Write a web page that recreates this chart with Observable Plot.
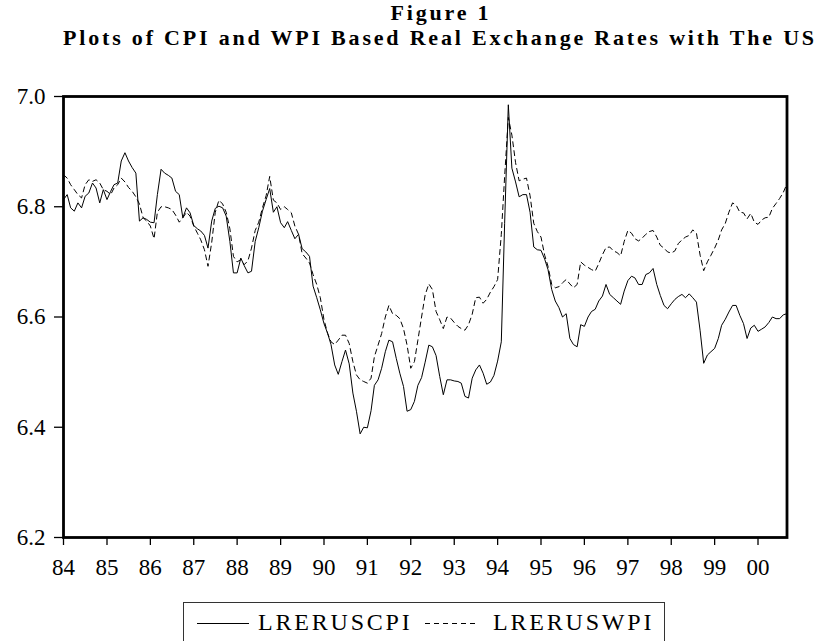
<!DOCTYPE html>
<html>
<head>
<meta charset="utf-8">
<script src="https://cdn.jsdelivr.net/npm/d3@7"></script>
<script src="https://cdn.jsdelivr.net/npm/@observablehq/plot@0.6"></script>
<style>
  html, body { margin: 0; padding: 0; background: #fff; }
  #wrap { position: relative; width: 823px; height: 641px; overflow: hidden; background: #fff;
          font-family: "Liberation Serif", "Times New Roman", serif; color: #000; }
  .title { position: absolute; font-weight: bold; font-size: 22px; line-height: 26px;
           letter-spacing: 2.8px; white-space: nowrap; text-align: center; }
  #chart { position: absolute; left: 0; top: 56px; }
  #legend { position: absolute; left: 183px; top: 602px; width: 482px; height: 44px;
            border: 1px solid #333; box-sizing: border-box; }
  #legend .lbl { position: absolute; top: 7px; font-size: 24px; line-height: 24px;
                 letter-spacing: 2.8px; white-space: nowrap; }
  #legend svg { position: absolute; top: 0; }
</style>
</head>
<body>
<div id="wrap">
  <div class="title" style="left:341px; top:0px; width:200px;">Figure 1</div>
  <div class="title" style="left:40px; top:25px; width:800px;">Plots of CPI and WPI Based Real Exchange Rates with The US</div>
  <div id="chart"></div>
  <div id="legend"></div>
</div>
<script>
// ---- data (monthly, 1984:01 – 2000:09) ----
const startYear = 1984;
const seriesNames = ["LRERUSCPI", "LRERUSWPI"];

const lrerusCPI = [
  6.813, 6.822, 6.798, 6.792, 6.807, 6.798, 6.819, 6.825, 6.843, 6.834, 6.807, 6.831, // 1984
  6.813, 6.828, 6.840, 6.843, 6.883, 6.898, 6.883, 6.871, 6.861, 6.774, 6.780, 6.777, // 1985
  6.772, 6.771, 6.822, 6.868, 6.861, 6.857, 6.852, 6.828, 6.822, 6.780, 6.798, 6.789, // 1986
  6.766, 6.760, 6.756, 6.748, 6.725, 6.774, 6.797, 6.801, 6.798, 6.783, 6.737, 6.680, // 1987
  6.680, 6.707, 6.693, 6.680, 6.683, 6.737, 6.762, 6.792, 6.813, 6.833, 6.790, 6.800, // 1988
  6.771, 6.762, 6.773, 6.757, 6.742, 6.750, 6.724, 6.718, 6.710, 6.656, 6.635, 6.613, // 1989
  6.588, 6.570, 6.550, 6.513, 6.496, 6.519, 6.540, 6.515, 6.462, 6.429, 6.388, 6.400, // 1990
  6.399, 6.430, 6.476, 6.486, 6.507, 6.537, 6.558, 6.555, 6.525, 6.498, 6.474, 6.429, // 1991
  6.432, 6.447, 6.476, 6.490, 6.518, 6.549, 6.546, 6.530, 6.492, 6.459, 6.486, 6.486, // 1992
  6.484, 6.483, 6.480, 6.456, 6.453, 6.489, 6.504, 6.513, 6.498, 6.478, 6.482, 6.494, // 1993
  6.520, 6.555, 6.770, 6.985, 6.870, 6.845, 6.818, 6.822, 6.822, 6.790, 6.727, 6.722, // 1994
  6.721, 6.705, 6.686, 6.650, 6.629, 6.617, 6.600, 6.606, 6.561, 6.550, 6.546, 6.586, // 1995
  6.583, 6.600, 6.610, 6.614, 6.629, 6.638, 6.659, 6.641, 6.635, 6.629, 6.623, 6.647, // 1996
  6.666, 6.674, 6.671, 6.659, 6.659, 6.677, 6.680, 6.688, 6.659, 6.639, 6.621, 6.615, // 1997
  6.624, 6.632, 6.637, 6.641, 6.635, 6.642, 6.635, 6.627, 6.575, 6.516, 6.531, 6.537, // 1998
  6.543, 6.561, 6.585, 6.596, 6.609, 6.621, 6.621, 6.603, 6.588, 6.561, 6.580, 6.585, // 1999
  6.574, 6.578, 6.582, 6.590, 6.600, 6.597, 6.597, 6.604, 6.606                       // 2000
];

const lrerusWPI = [
  6.858, 6.852, 6.840, 6.831, 6.822, 6.816, 6.840, 6.849, 6.846, 6.849, 6.843, 6.831, // 1984
  6.828, 6.822, 6.834, 6.840, 6.852, 6.845, 6.835, 6.828, 6.818, 6.805, 6.780, 6.774, // 1985
  6.765, 6.742, 6.790, 6.800, 6.800, 6.798, 6.795, 6.785, 6.772, 6.780, 6.790, 6.783, // 1986
  6.765, 6.752, 6.740, 6.722, 6.692, 6.735, 6.790, 6.812, 6.805, 6.790, 6.760, 6.710, // 1987
  6.700, 6.704, 6.695, 6.702, 6.725, 6.757, 6.772, 6.798, 6.820, 6.855, 6.812, 6.807, // 1988
  6.795, 6.800, 6.795, 6.789, 6.765, 6.750, 6.715, 6.707, 6.698, 6.677, 6.659, 6.635, // 1989
  6.595, 6.570, 6.555, 6.550, 6.558, 6.567, 6.567, 6.552, 6.519, 6.495, 6.486, 6.483, // 1990
  6.480, 6.489, 6.528, 6.549, 6.570, 6.600, 6.621, 6.606, 6.603, 6.597, 6.579, 6.549, // 1991
  6.507, 6.519, 6.558, 6.600, 6.640, 6.660, 6.650, 6.610, 6.595, 6.579, 6.600, 6.598, // 1992
  6.590, 6.583, 6.579, 6.576, 6.586, 6.605, 6.635, 6.636, 6.625, 6.632, 6.645, 6.655, // 1993
  6.668, 6.750, 6.855, 6.962, 6.930, 6.880, 6.847, 6.850, 6.852, 6.820, 6.770, 6.755, // 1994
  6.745, 6.712, 6.692, 6.659, 6.653, 6.655, 6.662, 6.668, 6.660, 6.653, 6.659, 6.700, // 1995
  6.694, 6.690, 6.686, 6.683, 6.697, 6.713, 6.726, 6.727, 6.720, 6.717, 6.711, 6.737, // 1996
  6.757, 6.752, 6.742, 6.738, 6.743, 6.750, 6.755, 6.757, 6.745, 6.730, 6.725, 6.718, // 1997
  6.716, 6.720, 6.733, 6.740, 6.745, 6.748, 6.758, 6.752, 6.712, 6.684, 6.700, 6.712, // 1998
  6.725, 6.740, 6.758, 6.770, 6.790, 6.807, 6.803, 6.790, 6.789, 6.778, 6.788, 6.772, // 1999
  6.768, 6.776, 6.780, 6.781, 6.797, 6.806, 6.815, 6.826, 6.842                       // 2000
];

const tickYears = [1984, 1985, 1986, 1987, 1988, 1989, 1990, 1991, 1992, 1993, 1994, 1995, 1996, 1997, 1998, 1999, 2000];
const xTickLabels = ["84","85","86","87","88","89","90","91","92","93","94","95","96","97","98","99","00"];
const yTicks = [6.2, 6.4, 6.6, 6.8, 7.0];
const yTickLabels = ["6.2", "6.4", "6.6", "6.8", "7.0"];

// ---- build table ----
const rows = lrerusCPI.map((v, i) => ({
  date: new Date(Date.UTC(startYear, i, 1)),
  cpi: v,
  wpi: lrerusWPI[i]
}));
const xTicks = tickYears.map(y => new Date(Date.UTC(y, 0, 1)));
const xLab = new Map(xTicks.map((d, i) => [+d, xTickLabels[i]]));
const yLab = new Map(yTicks.map((v, i) => [v.toFixed(1), yTickLabels[i]]));

const chart = Plot.plot({
  width: 823,
  height: 527,
  marginTop: 40,
  marginBottom: 46,
  marginLeft: 63,
  marginRight: 36.5,
  style: { fontFamily: "'Liberation Serif', 'Times New Roman', serif", fontSize: "23px", background: "white", color: "black", overflow: "visible" },
  x: { type: "utc", domain: [rows[0].date, rows[rows.length - 1].date] },
  y: { domain: [6.2, 7.0] },
  marks: [
    Plot.axisX({ ticks: xTicks, tickFormat: d => xLab.get(+d), tickSize: 8, tickPadding: 13, label: null, strokeWidth: 1.3 }),
    Plot.axisY({ ticks: yTicks, tickFormat: v => yLab.get(v.toFixed(1)), tickSize: 9, tickPadding: 9, label: null, strokeWidth: 1.3 }),
    Plot.line(rows, { x: "date", y: "cpi", stroke: "black", strokeWidth: 1 }),
    Plot.line(rows, { x: "date", y: "wpi", stroke: "black", strokeWidth: 1, strokeDasharray: "5,4" }),
    Plot.frame({ stroke: "black", strokeWidth: 2.8 })
  ]
});
document.getElementById("chart").appendChild(chart);

// ---- legend ----
const legend = document.getElementById("legend");
const items = [
  { name: seriesNames[0], dash: null, lineLeft: 13, textLeft: 74 },
  { name: seriesNames[1], dash: "5,4", lineLeft: 241, textLeft: 309 }
];
items.forEach(it => {
  const ns = "http://www.w3.org/2000/svg";
  const s = document.createElementNS(ns, "svg");
  s.setAttribute("width", 54); s.setAttribute("height", 40);
  s.style.left = it.lineLeft + "px";
  const ln = document.createElementNS(ns, "line");
  ln.setAttribute("x1", 0); ln.setAttribute("x2", 52);
  ln.setAttribute("y1", 20.5); ln.setAttribute("y2", 20.5);
  ln.setAttribute("stroke", "black"); ln.setAttribute("stroke-width", 1);
  if (it.dash) ln.setAttribute("stroke-dasharray", it.dash);
  s.appendChild(ln);
  legend.appendChild(s);
  const t = document.createElement("span");
  t.className = "lbl";
  t.style.left = it.textLeft + "px";
  t.textContent = it.name;
  legend.appendChild(t);
});
</script>
</body>
</html>
